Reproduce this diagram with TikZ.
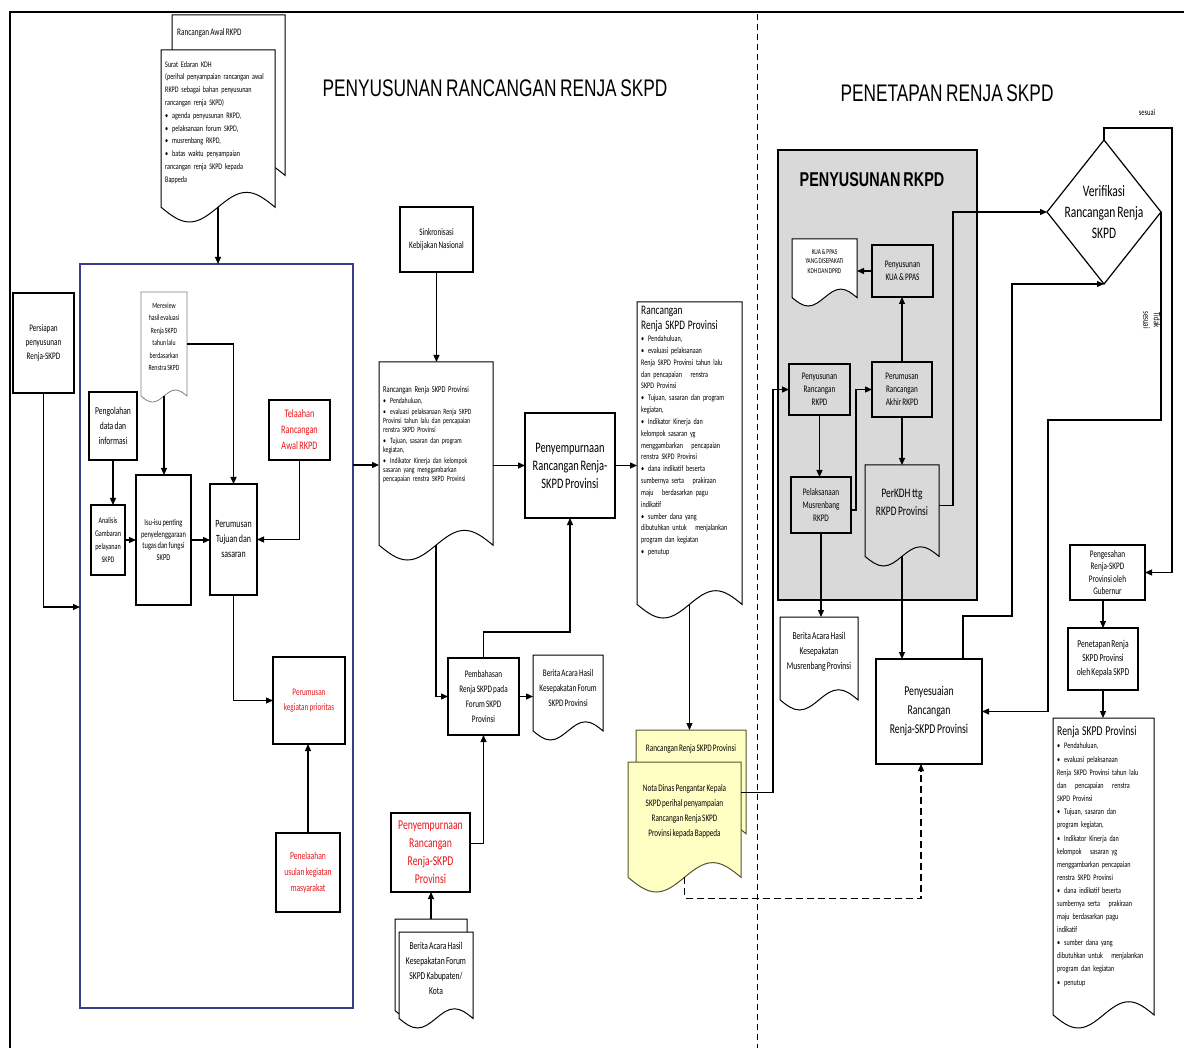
\documentclass[tikz,border=0pt]{standalone}
\usepackage{fontspec}
\setmainfont{Carlito}[FakeStretch=0.72,WordSpace=0.75]
\newfontfamily\titlefont{Liberation Sans}[FakeStretch=0.72,WordSpace=0.75]
\usetikzlibrary{arrows.meta,shapes.geometric,fit}
\definecolor{redtxt}{HTML}{E8141B}
\definecolor{navy}{HTML}{3C3C8C}
\definecolor{greybg}{HTML}{D9D9D9}
\definecolor{yel}{HTML}{FFFFC4}
\definecolor{yelline}{HTML}{55552E}
\newcommand\fs[2]{\fontsize{#1}{#2}\selectfont}
\newcommand\bul[1]{\par\hangindent=7pt\hangafter=1\noindent\makebox[7pt][l]{\textbullet}#1}
% document shape: [style]{name}{x1}{y1}{x2}{ylow}
\newcommand\docshape[6][]{%
  \pgfmathsetmacro\dsw{#5-#3}%
  \pgfmathsetmacro\dsa{min(0.13*\dsw,15)}%
  \pgfmathsetmacro\dsb{#6-\dsa}%
  \pgfmathsetmacro\dsq{#5-\dsw/4}%
  \pgfmathsetmacro\dsh{#5-\dsw/2}%
  \pgfmathsetmacro\dsr{#3+\dsw/4}%
  \pgfmathsetmacro\dsc{\dsb-\dsa}%
  \pgfmathsetmacro\dst{\dsb+\dsa}%
  \draw[docline,#1] (#3,#4) -- (#5,#4) -- (#5,\dsb) sin (\dsq,\dsc) cos (\dsh,\dsb) sin (\dsr,\dst) cos (#3,\dsb) -- cycle;
  \path (#3,#4) coordinate (#2-nw) (#5,\dsb) coordinate (#2-se);
  \node[fit=(#2-nw)(#2-se),inner sep=0pt,outer sep=0pt] (#2) {};}
% box: [style]{name}{x1}{y1}{x2}{y2}{text}
\newcommand\boxat[7][]{%
  \pgfmathsetmacro\bxw{#5-#3}\pgfmathsetmacro\bxh{#6-#4}%
  \pgfmathsetmacro\bxx{(#3+#5)/2}\pgfmathsetmacro\bxy{(#4+#6)/2}%
  \node[box,minimum width=\bxw pt,minimum height=\bxh pt,#1] (#2) at (\bxx,\bxy) {#7};}
\begin{document}
\begin{tikzpicture}[x=1pt,y=-1pt,
  box/.style={draw,line width=1.2pt,fill=white,align=center,inner sep=1pt,outer sep=0pt},
  grbox/.style={fill=greybg,font={\fs{10}{13}}},
  docline/.style={draw,line width=1pt,fill=white},
  dtext/.style={anchor=north west,inner sep=0pt},
  ctext/.style={align=center,inner sep=0pt},
  arr/.style={line width=1.2pt,-{Triangle[length=7pt,width=6pt]}},
  ttl/.style={font={\titlefont\fs{24}{28}}}]
\useasboundingbox (0,0) rectangle (1184,1048);
\fill[white] (0,0) rectangle (1184,1048);
% frame and divider
\coordinate (fr-a) at (10,1048);
\coordinate (fr-b) at (10,12);
\coordinate (fr-c) at (1184,12);
\draw[line width=1.5pt] (fr-a) -- (fr-b) -- (fr-c);
\coordinate (div-t) at (757,14);
\coordinate (div-b) at (757,1048);
\draw[line width=1pt,dash pattern=on 6pt off 4pt] (div-t) -- (div-b);
% titles
\node[ttl] (t1) at (495,88) {PENYUSUNAN RANCANGAN RENJA SKPD};
\node[ttl] (t2) at (947,93) {PENETAPAN RENJA SKPD};
% big containers
\boxat[draw=navy,line width=1.5pt]{blue}{80}{264}{353}{1008}{}
\boxat[fill=greybg,line width=1.3pt]{rkpd}{778}{150}{977}{600}{}
\node[font={\titlefont\bfseries\fs{20}{24}}] (rkpd-t) at (872,180) {PENYUSUNAN RKPD};
% top-left documents
\docshape{awal}{172}{15}{285}{190}
\node[dtext,font={\fs{10}{12}}] (awal-t) at (177,28) {Rancangan Awal RKPD};
\docshape{se}{161}{50}{275}{222}
\node[dtext,text width=112pt,font={\fs{8.5}{12.8}}] (se-t) at (165,61) {\raggedright Surat Edaran KDH\\(perihal penyampaian rancangan awal\\RKPD sebagai bahan penyusunan\\rancangan renja SKPD)
\bul{agenda penyusunan RKPD,}
\bul{pelaksanaan forum SKPD,}
\bul{musrenbang RKPD,}
\bul{batas waktu penyampaian\\rancangan renja SKPD kepada\\Bappeda}};
% left region
\boxat[font={\fs{10}{14}}]{persiapan}{13}{293}{74}{393}{Persiapan\\penyusunan\\Renja-SKPD}
\docshape[draw=gray,line width=0.8pt]{review}{141}{292}{187}{402}
\node[ctext,font={\fs{8}{12.5}}] (review-t) at (164,337) {Mereview\\hasil evaluasi\\Renja SKPD\\tahun lalu\\berdasarkan\\Renstra SKPD};
\boxat[font={\fs{10.5}{15}}]{olah}{89}{392}{137}{460}{Pengolahan\\data dan\\informasi}
\boxat[font={\fs{8.5}{13}}]{analisis}{91}{505}{125}{575}{Analisis\\Gambaran\\pelayanan\\SKPD}
\boxat[font={\fs{9}{11.5}}]{isu}{136}{475}{191}{605}{Isu-isu penting\\penyelenggaraan\\tugas dan fungsi\\SKPD}
\boxat[font={\fs{11}{15}}]{tujuan}{210}{484}{257}{595}{Perumusan\\Tujuan dan\\sasaran}
\boxat[font={\fs{11.5}{16}},text=redtxt]{telaah}{269}{400}{330}{460}{Telaahan\\Rancangan\\Awal RKPD}
\boxat[font={\fs{10}{15}},text=redtxt]{prioritas}{273}{657}{345}{744}{Perumusan\\kegiatan prioritas}
\boxat[font={\fs{10.5}{16}},text=redtxt]{usul}{276}{833}{340}{912}{Penelaahan\\usulan kegiatan\\masyarakat}
% middle region
\boxat[font={\fs{10}{13}}]{sinkron}{400}{207}{473}{272}{Sinkronisasi\\Kebijakan Nasional}
\docshape{mid}{379}{362}{493}{560}
\node[dtext,text width=112pt,font={\fs{8}{9.1}}] (mid-t) at (383,386) {\raggedright\setlength{\parskip}{1.8pt}{\fs{9}{10}Rancangan Renja SKPD Provinsi\par}
\bul{Pendahuluan,}
\bul{evaluasi pelaksanaan Renja SKPD\\Provinsi tahun lalu dan pencapaian\\renstra SKPD Provinsi}
\bul{Tujuan, sasaran dan program\\kegiatan,}
\bul{Indikator Kinerja dan kelompok\\sasaran yang menggambarkan\\pencapaian renstra SKPD Provinsi}};
\boxat[font={\fs{14.5}{18}}]{penyemp}{525}{413}{615}{518}{Penyempurnaan\\Rancangan Renja-\\SKPD Provinsi}
\boxat[font={\fs{10}{15}}]{bahas}{448}{658}{519}{735}{Pembahasan\\Renja SKPD pada\\Forum SKPD\\Provinsi}
\docshape{ba1}{533}{655}{603}{740}
\node[ctext,font={\fs{10}{15}}] (ba1-t) at (568,688) {Berita Acara Hasil\\Kesepakatan Forum\\SKPD Provinsi};
\boxat[font={\fs{13.5}{18}},text=redtxt]{redpenyemp}{391}{813}{470}{892}{Penyempurnaan\\Rancangan\\Renja-SKPD\\Provinsi}
\docshape{kabback}{395}{919}{467}{1020}
\docshape{kab}{399}{932}{473}{1028}
\node[ctext,font={\fs{10.5}{15}}] (kab-t) at (436,968) {Berita Acara Hasil\\Kesepakatan Forum\\SKPD Kabupaten/\\Kota};
% right doc of left half
\docshape{rdoc}{637}{302}{742}{618}
\node[dtext,text width=104pt,font={\fs{8.5}{11.7}}] (rdoc-t) at (641,306) {\raggedright\setlength{\parskip}{0.4pt}{\fs{13}{15}Rancangan\\Renja SKPD Provinsi\par}
\bul{Pendahuluan,}
\bul{evaluasi pelaksanaan\\Renja SKPD Provinsi tahun lalu\\dan pencapaian\quad renstra\\SKPD Provinsi}
\bul{Tujuan, sasaran dan program\\kegiatan,}
\bul{Indikator Kinerja dan\\kelompok sasaran yg\\menggambarkan\quad pencapaian\\renstra SKPD Provinsi}
\bul{dana indikatif beserta\\sumbernya serta\quad prakiraan\\maju\quad berdasarkan pagu\\indikatif}
\bul{sumber dana yang\\dibutuhkan untuk\quad menjalankan\\program dan kegiatan}
\bul{penutup}};
\docshape[fill=yel,draw=yelline]{ryel}{636}{730}{746}{848}
\node[ctext,font={\fs{10}{12}}] (ryel-t) at (691,749) {Rancangan Renja SKPD Provinsi};
\docshape[fill=yel,draw=yelline]{nota}{628}{762}{741}{892}
\node[ctext,font={\fs{10}{15}}] (nota-t) at (684.5,811) {Nota Dinas Pengantar Kepala\\SKPD perihal penyampaian\\Rancangan Renja SKPD\\Provinsi kepada Bappeda};
% RKPD box contents
\docshape{kuadoc}{792}{239}{857}{306}
\node[ctext,font={\fs{7.5}{9.5}}] (kuadoc-t) at (824.5,261) {KUA \& PPAS\\YANG DISEPAKATI\\KDH DAN DPRD};
\boxat[grbox]{kuabox}{872}{245}{933}{297}{Penyusunan\\KUA \& PPAS}
\boxat[grbox]{penyrkpd}{789}{364}{850}{415}{Penyusunan\\Rancangan\\RKPD}
\boxat[grbox]{laksana}{791}{477}{851}{533}{Pelaksanaan\\Musrenbang\\RKPD}
\boxat[grbox]{akhir}{872}{362}{932}{417}{Perumusan\\Rancangan\\Akhir RKPD}
\docshape[fill=greybg]{perkdh}{865}{465}{939}{566}
\node[ctext,font={\fs{13}{18}}] (perkdh-t) at (902,502) {PerKDH ttg\\RKPD Provinsi};
\docshape{ba2}{780}{617}{858}{710}
\node[ctext,font={\fs{10.5}{15}}] (ba2-t) at (819,652) {Berita Acara Hasil\\Kesepakatan\\Musrenbang Provinsi};
\boxat[font={\fs{13.5}{19}}]{sesuaikan}{876}{659}{982}{764}{Penyesuaian\\Rancangan\\Renja-SKPD Provinsi}
% verification and final
\node[draw,diamond,line width=1.2pt,fill=white,minimum width=114pt,minimum height=144pt,inner sep=0pt,outer sep=0pt] (verif) at (1104,212) {};
\node[ctext,font={\fs{16}{21}}] (verif-t) at (1104,212) {Verifikasi\\Rancangan Renja\\SKPD};
\node[font={\fs{9}{11}}] (sesuai) at (1147,112) {sesuai};
\node[ctext,rotate=-90,font={\fs{9.5}{10.5}}] (tidak) at (1152,320) {Tidak\\sesuai};
\boxat[font={\fs{10}{12.5}}]{pengesahan}{1070}{545}{1145}{600}{Pengesahan\\Renja-SKPD\\Provinsi oleh\\Gubernur}
\boxat[font={\fs{10.5}{14}}]{penetapan}{1068}{628}{1138}{690}{Penetapan Renja\\SKPD Provinsi\\oleh Kepala SKPD}
\docshape{renja}{1053}{718}{1154}{1028}
\node[dtext,text width=104pt,font={\fs{8.5}{13}}] (renja-t) at (1057,726) {\raggedright\setlength{\parskip}{0.4pt}{\fs{13.5}{16}Renja SKPD Provinsi\par}
\bul{Pendahuluan,}
\bul{evaluasi pelaksanaan\\Renja SKPD Provinsi tahun lalu\\dan\quad pencapaian\quad renstra\\SKPD Provinsi}
\bul{Tujuan, sasaran dan\\program kegiatan,}
\bul{Indikator Kinerja dan\\kelompok\quad sasaran yg\\menggambarkan pencapaian\\renstra SKPD Provinsi}
\bul{dana indikatif beserta\\sumbernya serta\quad prakiraan\\maju berdasarkan pagu\\indikatif}
\bul{sumber dana yang\\dibutuhkan untuk\quad menjalankan\\program dan kegiatan}
\bul{penutup}};
% ---------------- connectors ----------------
\coordinate (c-persiapan) at (80,607);
\coordinate (c-blueout) at (353,465);
\coordinate (c-v1) at (1012,616);
\coordinate (c-v2) at (1048,420);
\coordinate (c-v3) at (1172,128);
\draw[arr] (se.south) -- (se.south |- blue.north);
\draw[arr] (persiapan.south) |- (c-persiapan);
\draw[arr] (review.east) -| (tujuan.north);
\draw[arr] (review.south) -- (review.south |- isu.north);
\draw[arr] (olah.south) -- (olah.south |- analisis.north);
\draw[arr] (analisis.east) -- (analisis.east -| isu.west);
\draw[arr] (isu.east) -- (isu.east -| tujuan.west);
\draw[arr] (telaah.south) |- (tujuan.east);
\draw[arr] (tujuan.south) |- (prioritas.west);
\draw[arr] (usul.north) -- (usul.north |- prioritas.south);
\draw[arr] (c-blueout) -- (c-blueout -| mid.west);
\draw[arr] (sinkron.south) -- (sinkron.south |- mid.north);
\draw[arr] (mid.east |- penyemp.west) -- (penyemp.west);
\draw[arr] (penyemp.east) -- (penyemp.east -| rdoc.west);
\draw[arr] (mid.south) |- (bahas.west);
\draw[arr] (bahas.north) -- ++(0,-26) -| (penyemp.south);
\draw[arr] (bahas.east) -- (bahas.east -| ba1.west);
\draw[arr] ([yshift=9pt]redpenyemp.east) -| (bahas.south);
\draw[arr] (kabback.north) -- (kabback.north |- redpenyemp.south);
\draw[arr] (rdoc.south) -- (rdoc.south |- ryel.north);
\draw[arr] ([yshift=27pt]nota.east) -- ++(32,0) |- (penyrkpd.west);
\draw[arr,dashed,dash pattern=on 7pt off 4pt] (nota.south) -- ++(0,21) -| ([xshift=-8pt]sesuaikan.south);
\draw[arr] (penyrkpd.south) -- (penyrkpd.south |- laksana.north);
\draw[arr] ([yshift=-5pt]laksana.east) -- ++(5,0) |- (akhir.west);
\draw[arr] (akhir.north) -- (akhir.north |- kuabox.south);
\draw[arr] (kuabox.west) -- (kuabox.west -| kuadoc.east);
\draw[arr] (akhir.south) -- (akhir.south |- perkdh.north);
\draw[arr] ([yshift=5pt]perkdh.east) -- ++(14,0) |- (verif.west);
\draw[arr] (laksana.south) -- (laksana.south |- ba2.north);
\draw[arr] (perkdh.south) -- (perkdh.south |- sesuaikan.north);
\draw[arr] ([xshift=34pt]sesuaikan.north) |- (c-v1) |- (verif.south);
\draw[arr] (verif.east) |- (c-v2) |- (sesuaikan.east);
\draw[arr] (verif.north) |- (c-v3) |- (pengesahan.east);
\draw[arr] (penetapan.north |- pengesahan.south) -- (penetapan.north);
\draw[arr] (penetapan.south) -- (penetapan.south |- renja.north);
\end{tikzpicture}
\end{document}
